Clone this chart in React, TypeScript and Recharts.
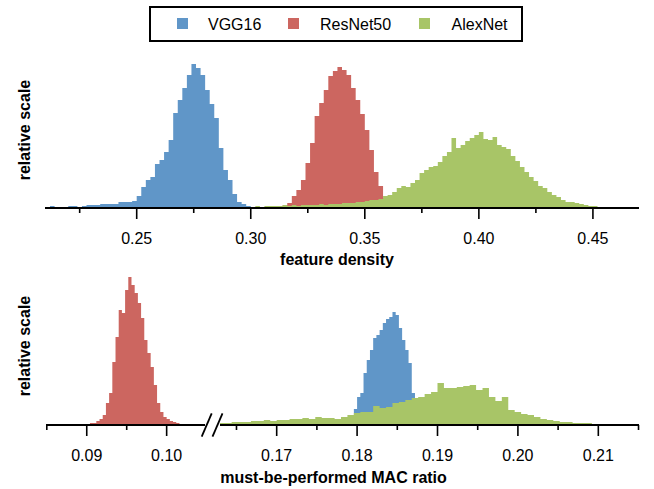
import React from 'react';
import { ComposedChart, Area, XAxis, YAxis } from 'recharts';

// ---------- legend / series ----------
const SERIES_NAMES = ['VGG16', 'ResNet50', 'AlexNet'];
const SERIES_COLORS = ['#6096c8', '#cc6660', '#a8c567'];

// ---------- top panel: feature density histograms (relative heights) ----------
const VGG16_DENSITY_START = 0.212;
const VGG16_DENSITY_STEP = 0.002;
const VGG16_DENSITY = [2, 1, 0, 1, 2, 2, 1, 2, 3, 3, 3, 4, 4, 4, 4, 6, 6, 6, 7, 12, 21, 28, 31, 44, 48, 56, 68, 95, 108, 120, 133, 144, 140, 133, 118, 104, 90, 60, 38, 28, 14, 6, 4, 2, 1, 1];

const RESNET50_DENSITY_START = 0.304;
const RESNET50_DENSITY_STEP = 0.002;
const RESNET50_DENSITY = [1, 1, 1, 2, 2, 3, 5, 12, 18, 28, 45, 65, 92, 105, 118, 132, 137, 141, 138, 133, 120, 108, 94, 78, 58, 36, 22, 10, 4];

const ALEXNET_DENSITY_START = 0.28;
const ALEXNET_DENSITY_STEP = 0.002;
const ALEXNET_DENSITY = [1, 1, 0, 1, 1, 1, 0, 1, 1, 1, 1, 2, 1, 2, 2, 2, 2, 3, 2, 3, 2, 3, 3, 3, 3, 4, 3, 4, 4, 4, 5, 5, 5, 6, 6, 7, 8, 8, 9, 12, 13, 16, 20, 22, 21, 25, 28, 35, 38, 41, 42, 46, 52, 56, 70, 60, 63, 67, 70, 73, 76, 69, 68, 71, 63, 61, 59, 52, 47, 41, 36, 31, 27, 22, 20, 16, 13, 11, 8, 6, 6, 5, 4, 3, 2, 2, 1, 1, 1, 1, 1, 0, 1, 1];

// ---------- bottom panel: must-be-performed MAC ratio histograms ----------
const RESNET50_MAC_START = 0.09;
const RESNET50_MAC_STEP = 0.0004;
const RESNET50_MAC = [1, 2, 2, 4, 6, 10, 22, 32, 63, 88, 115, 112, 135, 148, 140, 132, 122, 107, 85, 72, 58, 40, 22, 13, 8, 6, 4, 3, 2];

const VGG16_MAC_START = 0.1788;
const VGG16_MAC_STEP = 0.0004;
const VGG16_MAC = [3, 10, 16, 28, 32, 52, 65, 75, 87, 90, 95, 102, 106, 108, 113, 110, 97, 85, 75, 62, 32, 20, 10, 5, 2];

const ALEXNET_MAC_START = 0.1628;
const ALEXNET_MAC_STEP = 0.0008;
const ALEXNET_MAC = [2, 2, 3, 3, 3, 4, 4, 5, 4, 5, 5, 6, 6, 7, 6, 8, 7, 7, 6, 8, 10, 12, 13, 13, 19, 17, 18, 22, 23, 25, 27, 28, 31, 33, 42, 37, 37, 38, 39, 40, 35, 37, 28, 24, 28, 15, 13, 11, 10, 8, 6, 5, 4, 3, 3, 2, 2, 2, 1];

// ---------- axes ----------
const TOP_DOMAIN = [0.2098, 0.4702];
const TOP_MAJOR_TICKS = [0.25, 0.3, 0.35, 0.4, 0.45];
const TOP_MINOR_TICKS = [0.225, 0.275, 0.325, 0.375, 0.425];
const BOTTOM_LEFT_DOMAIN = [0.0849, 0.1048];
const BOTTOM_LEFT_MAJOR_TICKS = [0.09, 0.1];
const BOTTOM_LEFT_MINOR_TICKS = [0.085, 0.095];
const BOTTOM_RIGHT_DOMAIN = [0.16295, 0.21506];
const BOTTOM_RIGHT_MAJOR_TICKS = [0.17, 0.18, 0.19, 0.2, 0.21];
const BOTTOM_RIGHT_MINOR_TICKS = [0.165, 0.175, 0.185, 0.195, 0.205, 0.215];
const TOP_X_LABEL = 'feature density';
const BOTTOM_X_LABEL = 'must-be-performed MAC ratio';
const Y_LABEL = 'relative scale';

type Hist = { key: string; start: number; step: number; values: number[] };

function buildRows(hists: Hist[]) {
  const r = (v: number) => Math.round(v * 1e7) / 1e7;
  const xs = new Set<number>();
  hists.forEach((h) => {
    for (let i = 0; i <= h.values.length; i++) xs.add(r(h.start + i * h.step));
  });
  const sorted = Array.from(xs).sort((a, b) => a - b);
  return sorted.map((x) => {
    const row: any = { x };
    hists.forEach((h) => {
      const i = Math.floor((x - h.start) / h.step + 1e-6);
      row[h.key] = i >= 0 && i < h.values.length ? h.values[i] : 0;
    });
    return row;
  });
}

const topRows = buildRows([
  { key: 'VGG16', start: VGG16_DENSITY_START, step: VGG16_DENSITY_STEP, values: VGG16_DENSITY },
  { key: 'ResNet50', start: RESNET50_DENSITY_START, step: RESNET50_DENSITY_STEP, values: RESNET50_DENSITY },
  { key: 'AlexNet', start: ALEXNET_DENSITY_START, step: ALEXNET_DENSITY_STEP, values: ALEXNET_DENSITY },
]);
const bottomLeftRows = buildRows([
  { key: 'ResNet50', start: RESNET50_MAC_START, step: RESNET50_MAC_STEP, values: RESNET50_MAC },
]);
const bottomRightRows = buildRows([
  { key: 'VGG16', start: VGG16_MAC_START, step: VGG16_MAC_STEP, values: VGG16_MAC },
  { key: 'AlexNet', start: ALEXNET_MAC_START, step: ALEXNET_MAC_STEP, values: ALEXNET_MAC },
]);

const FONT = '"Liberation Sans", Arial, Helvetica, sans-serif';
const AXIS_STROKE = { stroke: '#000', strokeWidth: 1.8 };

const makeTick = (majors: number[]) => (props: any) => {
  const { x, y, payload } = props;
  const v = payload.value as number;
  const isMajor = majors.some((m) => Math.abs(m - v) < 1e-9);
  return (
    <g>
      <line x1={x} x2={x} y1={y} y2={y + (isMajor ? 11 : 5)} stroke="#000" strokeWidth={1.6} />
      {isMajor && (
        <text x={x} y={y + 35.5} textAnchor="middle" fontSize={16} fontFamily={FONT} fill="#000">
          {v.toFixed(2)}
        </text>
      )}
    </g>
  );
};

const colorOf = (name: string) => SERIES_COLORS[SERIES_NAMES.indexOf(name)];

const renderAreas = (keys: string[]) =>
  keys.map((k) => (
    <Area
      key={k}
      type="stepAfter"
      dataKey={k}
      fill={colorOf(k)}
      fillOpacity={1}
      stroke="none"
      dot={false}
      activeDot={false}
      isAnimationActive={false}
    />
  ));

export default function App() {
  return (
    <div style={{ position: 'absolute', left: 0, top: 0, width: 654, height: 489, background: '#fff', overflow: 'hidden' }}>
      {/* top panel */}
      <div style={{ position: 'absolute', left: 0, top: 0 }}>
        <ComposedChart width={654} height={270} data={topRows} margin={{ top: 52, right: 15, bottom: 0, left: 45 }}>
          <XAxis
            type="number"
            dataKey="x"
            domain={TOP_DOMAIN}
            allowDataOverflow
            ticks={[...TOP_MINOR_TICKS, ...TOP_MAJOR_TICKS].sort((a, b) => a - b)}
            interval={0}
            tickLine={false}
            tickSize={0}
            tickMargin={0}
            height={62}
            axisLine={AXIS_STROKE}
            tick={makeTick(TOP_MAJOR_TICKS)}
          />
          <YAxis type="number" domain={[0, 156]} allowDataOverflow tick={false} tickLine={false} width={0} axisLine={AXIS_STROKE} />
          {renderAreas(['VGG16', 'ResNet50', 'AlexNet'])}
        </ComposedChart>
      </div>

      {/* bottom panel, left segment */}
      <div style={{ position: 'absolute', left: 0, top: 220 }}>
        <ComposedChart width={215} height={267} data={bottomLeftRows} margin={{ top: 48, right: 10, bottom: 0, left: 46 }}>
          <XAxis
            type="number"
            dataKey="x"
            domain={BOTTOM_LEFT_DOMAIN}
            allowDataOverflow
            ticks={[...BOTTOM_LEFT_MINOR_TICKS, ...BOTTOM_LEFT_MAJOR_TICKS].sort((a, b) => a - b)}
            interval={0}
            tickLine={false}
            tickSize={0}
            tickMargin={0}
            height={62}
            axisLine={AXIS_STROKE}
            tick={makeTick(BOTTOM_LEFT_MAJOR_TICKS)}
          />
          <YAxis type="number" domain={[0, 157]} allowDataOverflow tick={false} tickLine={false} width={0} axisLine={AXIS_STROKE} />
          {renderAreas(['ResNet50'])}
        </ComposedChart>
      </div>

      {/* bottom panel, right segment */}
      <div style={{ position: 'absolute', left: 200, top: 220 }}>
        <ComposedChart width={454} height={267} data={bottomRightRows} margin={{ top: 48, right: 15, bottom: 0, left: 20 }}>
          <XAxis
            type="number"
            dataKey="x"
            domain={BOTTOM_RIGHT_DOMAIN}
            allowDataOverflow
            ticks={[...BOTTOM_RIGHT_MINOR_TICKS, ...BOTTOM_RIGHT_MAJOR_TICKS].sort((a, b) => a - b)}
            interval={0}
            tickLine={false}
            tickSize={0}
            tickMargin={0}
            height={62}
            axisLine={AXIS_STROKE}
            tick={makeTick(BOTTOM_RIGHT_MAJOR_TICKS)}
          />
          <YAxis type="number" domain={[0, 157]} allowDataOverflow hide />
          {renderAreas(['VGG16', 'AlexNet'])}
        </ComposedChart>
      </div>

      {/* overlay: legend, titles, axis break */}
      <svg width={654} height={489} style={{ position: 'absolute', left: 0, top: 0, pointerEvents: 'none' }}>
        <rect x={150} y={7} width={372} height={34} fill="#fff" stroke="#000" strokeWidth={2} />
        {SERIES_NAMES.map((name, i) => {
          const sx = [177, 288, 419][i];
          const tx = [208, 320, 451.5][i];
          return (
            <g key={name}>
              <rect x={sx} y={18} width={11} height={11} fill={SERIES_COLORS[i]} />
              <text x={tx} y={30} fontSize={16} fontFamily={FONT} fill="#000">
                {name}
              </text>
            </g>
          );
        })}

        <text x={337} y={265} textAnchor="middle" fontSize={16} fontWeight="bold" fontFamily={FONT} fill="#000">
          {TOP_X_LABEL}
        </text>
        <text x={333.5} y={483} textAnchor="middle" fontSize={16} fontWeight="bold" fontFamily={FONT} fill="#000">
          {BOTTOM_X_LABEL}
        </text>
        <text transform="translate(30, 130) rotate(-90)" textAnchor="middle" fontSize={16} fontWeight="bold" fontFamily={FONT} fill="#000">
          {Y_LABEL}
        </text>
        <text transform="translate(30, 346) rotate(-90)" textAnchor="middle" fontSize={16} fontWeight="bold" fontFamily={FONT} fill="#000">
          {Y_LABEL}
        </text>

        <line x1={201.7} y1={436.7} x2={211.7} y2={413.3} stroke="#000" strokeWidth={1.8} />
        <line x1={212.5} y1={436.7} x2={222.5} y2={413.3} stroke="#000" strokeWidth={1.8} />
      </svg>
    </div>
  );
}
